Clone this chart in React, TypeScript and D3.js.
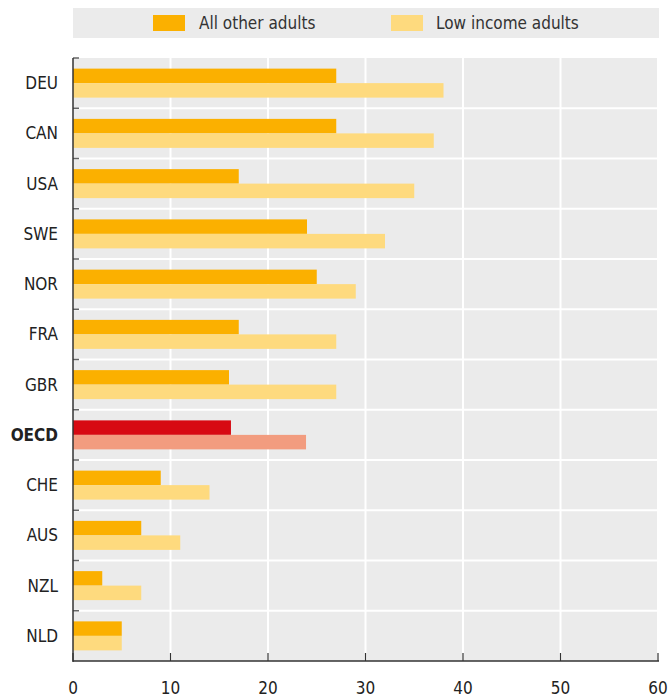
import React from "react";
import * as d3 from "d3";

const categories = ["DEU", "CAN", "USA", "SWE", "NOR", "FRA", "GBR", "OECD", "CHE", "AUS", "NZL", "NLD"];
const allOtherAdults = [27, 27, 17, 24, 25, 17, 16, 16.2, 9, 7, 3, 5];
const lowIncomeAdults = [38, 37, 35, 32, 29, 27, 27, 23.9, 14, 11, 7, 5];
const xTicks = [0, 10, 20, 30, 40, 50, 60];
const seriesNames = ["All other adults", "Low income adults"];

const FONT = "'Liberation Sans Narrow', 'DejaVu Sans Condensed', 'Arial Narrow', sans-serif";

export default function App() {
  const W = 672, H = 700;
  const left = 73, right = 659, top = 58, bottom = 661;
  const x = d3.scaleLinear().domain([0, 60]).range([left, right - 1]);
  const y = d3.scaleBand<string>().domain(categories).range([top, bottom]);
  const inner = d3.scaleBand<string>().domain(["a", "b"]).range([0, 29]);
  const barOffset = (y.bandwidth() - 29) / 2;

  const colA = "#FBB000", colB = "#FEDA7E";
  const colAO = "#D70A12", colBO = "#F29C7F";

  return (
    <svg width={W} height={H} style={{ position: "absolute", left: 0, top: 0 }}>
      {/* legend */}
      <rect x={73} y={8} width={586} height={30} fill="#EBEBEB" />
      <rect x={153} y={15} width={32} height={16} fill={colA} />
      <text x={199} y={29} fontFamily={FONT} fontSize={17} fill="#333">{seriesNames[0]}</text>
      <rect x={391} y={15} width={32} height={16} fill={colB} />
      <text x={436} y={29} fontFamily={FONT} fontSize={17} fill="#333">{seriesNames[1]}</text>

      {/* plot bg */}
      <rect x={left} y={top} width={right - left} height={bottom - top} fill="#EBEBEB" />
      {/* vertical gridlines */}
      {xTicks.slice(1).map((t) => (
        <line key={"v" + t} x1={x(t)} x2={x(t)} y1={top} y2={bottom} stroke="#fff" strokeWidth={2} />
      ))}
      {/* horizontal separators */}
      {categories.slice(1).map((c) => (
        <line key={"h" + c} x1={left} x2={right} y1={y(c)!} y2={y(c)!} stroke="#fff" strokeWidth={2} />
      ))}

      {/* bars */}
      {categories.map((c, i) => {
        const oecd = c === "OECD";
        const y0 = y(c)! + barOffset;
        return (
          <g key={c}>
            <rect x={x(0)} y={y0 + inner("a")!} width={x(allOtherAdults[i]) - x(0)} height={inner.bandwidth()} fill={oecd ? colAO : colA} />
            <rect x={x(0)} y={y0 + inner("b")!} width={x(lowIncomeAdults[i]) - x(0)} height={inner.bandwidth()} fill={oecd ? colBO : colB} />
            <text x={58} y={y(c)! + y.bandwidth() / 2} dy="0.35em" textAnchor="end" fontFamily={FONT} fontSize={17} fontWeight={oecd ? "bold" : "normal"} fill="#222">{c}</text>
          </g>
        );
      })}

      {/* left axis ticks at boundaries */}
      {categories.map((c) => (
        <line key={"lt" + c} x1={left} x2={left + 6} y1={y(c)!} y2={y(c)!} stroke="#666" strokeWidth={1.5} />
      ))}
      <line x1={left} x2={left} y1={top} y2={bottom + 1} stroke="#333" strokeWidth={1.5} />
      {/* bottom axis */}
      <line x1={left} x2={right} y1={bottom} y2={bottom} stroke="#333" strokeWidth={1.5} />
      {xTicks.map((t) => (
        <g key={"bt" + t}>
          <line x1={x(t)} x2={x(t)} y1={bottom} y2={bottom - 8} stroke="#333" strokeWidth={1.2} />
          <text x={x(t)} y={694} textAnchor="middle" fontFamily={FONT} fontSize={17} fill="#222">{t}</text>
        </g>
      ))}
    </svg>
  );
}
